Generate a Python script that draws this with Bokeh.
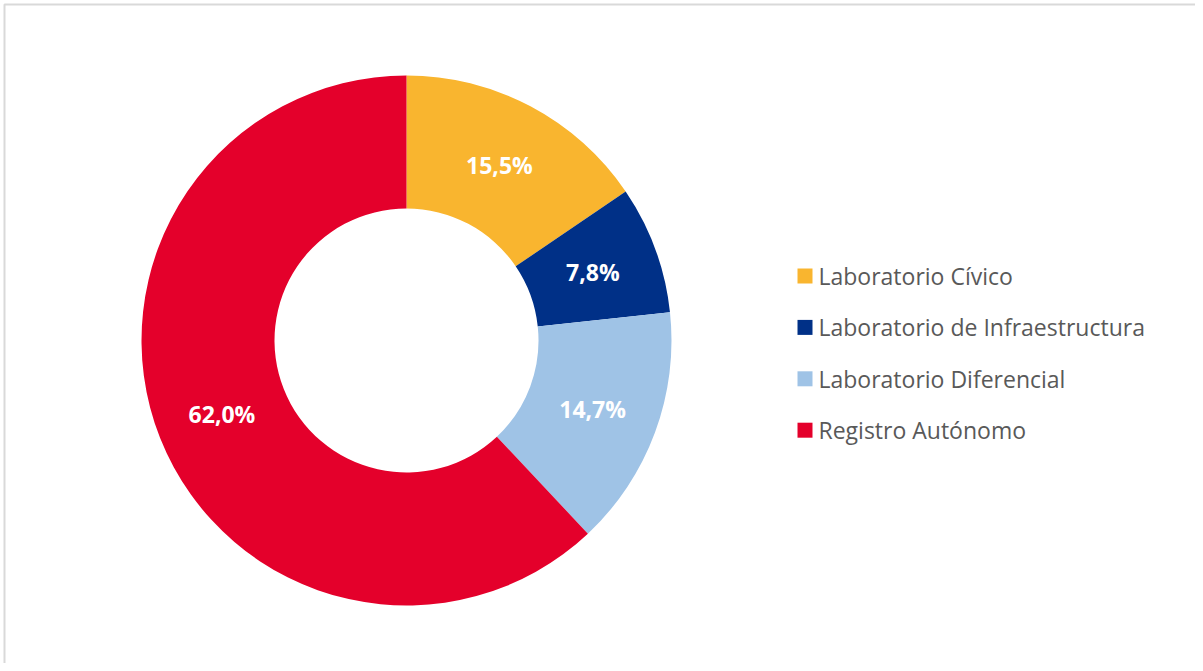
import math
from bokeh.plotting import figure
from bokeh.models import Range1d, ColumnDataSource
from bokeh.core.properties import value
from bokeh.embed import file_html
from bokeh.resources import INLINE

categories = ["Laboratorio Cívico", "Laboratorio de Infraestructura",
              "Laboratorio Diferencial", "Registro Autónomo"]
shares = [15.5, 7.8, 14.7, 62.0]
labels = ["15,5%", "7,8%", "14,7%", "62,0%"]
colors = ["#F9B52F", "#003087", "#9FC3E6", "#E4002B"]

W, H = 1195, 663
p = figure(width=W, height=H, output_backend="svg", toolbar_location=None,
           x_range=Range1d(0, W), y_range=Range1d(0, H), min_border=0)
p.axis.visible = False
p.grid.visible = False
p.outline_line_color = None
p.background_fill_color = "white"

# chart-area border (left/top visible, right/bottom beyond the frame)
p.quad(left=4, right=W + 20, top=H - 4, bottom=-20, fill_color=None,
       line_color="#D9D9D9", line_width=2)

cx, cy = 406, H - 340
r_out, r_in = 265, 132
total = sum(shares)
starts, ends, lx, ly = [], [], [], []
a = math.pi / 2
for s in shares:
    span = s / total * 2 * math.pi
    starts.append(a - span)
    ends.append(a)
    mid = a - span / 2
    rm = (r_out + r_in) / 2
    lx.append(cx + rm * math.cos(mid))
    ly.append(cy + rm * math.sin(mid))
    a -= span

src = ColumnDataSource(dict(start=starts, end=ends, color=colors, lx=lx, ly=ly,
                            label=labels, cat=categories))
p.annular_wedge(x=cx, y=cy, inner_radius=r_in, outer_radius=r_out,
                start_angle="start", end_angle="end", fill_color="color",
                line_color=None, source=src)
p.text(x="lx", y="ly", text="label", source=src, text_color="white",
       text_font=value("Open Sans"), text_font_style="bold", text_font_size="23px",
       text_align="center", text_baseline="middle")

# legend
leg_x = 797
step = 51.4
ys = [H - (275.5 + i * step) for i in range(len(categories))]
xs_sq = [leg_x + 7.5] * len(categories)
xs_t = [leg_x + 21] * len(categories)
lsrc = ColumnDataSource(dict(x=xs_sq, xt=xs_t, y=ys, color=colors, cat=categories))
p.rect(x="x", y="y", width=15, height=15, width_units="screen", height_units="screen",
       fill_color="color", line_color=None, source=lsrc)
p.text(x="xt", y="y", text="cat", source=lsrc, text_color="#595959",
       text_font=value("Open Sans"), text_font_size="23px", text_baseline="middle",
       text_align="left")

open("out.html", "w").write(file_html(p, INLINE))
